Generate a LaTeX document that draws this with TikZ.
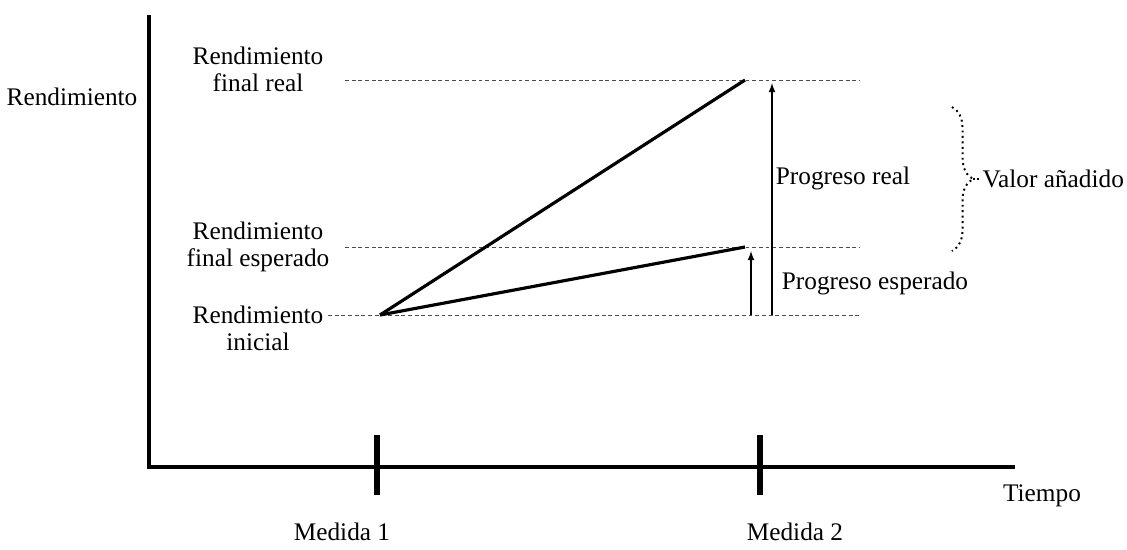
\documentclass[tikz,border=0pt]{standalone}
\usepackage{fontspec}
\setmainfont{Liberation Serif}
\usetikzlibrary{decorations.pathreplacing}

\begin{document}
\begin{tikzpicture}[x=0.02cm, y=-0.02cm, font=\fontsize{14.4}{15.5}\selectfont,
	guide/.style={gray!60!black, line width=0.5pt, dash pattern=on 2.2pt off 1.6pt},
	trend/.style={line width=1.8pt},
	lbl/.style={align=center, inner sep=1pt}]
	\useasboundingbox (0,0) rectangle (1127,549);
	% axes and ticks
	\draw[line width=2.3pt] (149,15) coordinate (top) -- (149,467) coordinate (O) -- (1015,467) coordinate (end);
	\draw[line width=3.4pt] (377,435) coordinate (t1) -- (377,495);
	\draw[line width=3.4pt] (760,435) coordinate (t2) -- (760,495);
	\node (ylab) at (72,97) {Rendimiento};
	\node (xlab) at (1042,496) {Tiempo};
	\node (m1) at (342,532) {Medida 1};
	\node (m2) at (795,532) {Medida 2};
	\node[lbl] (freal) at (258,69) {Rendimiento\\final real};
	\node[lbl] (fesp) at (258,247) {Rendimiento\\final esperado};
	\node[lbl] (ini) at (258,328) {Rendimiento\\inicial};
	% levels
	\draw[guide] (345,80) -- (860,80);
	\draw[guide] (345,247) -- (860,247);
	\draw[guide] (328,315) -- (860,315);
	\draw[trend] (380,315) coordinate (A) -- (745,80) coordinate (B);
	\draw[trend] (A) -- (745,247) coordinate (C);
	% \draw[-latex] (A)--(B);
	\draw[-latex, line width=0.8pt] (772,315) coordinate (D) -- (772,83);
	\draw[-latex, line width=0.8pt] (751,315) coordinate (E) -- (751,251);
	\node (preal) at (843,178) {Progreso real};
	\node (pesp) at (875,283) {Progreso esperado};
	\draw[dotted, line width=1.1pt, decorate, decoration={brace, amplitude=12pt}] (952,107) coordinate (F) -- (952,251) coordinate (G);
	\draw[densely dotted, line width=1.1pt] (973,179) -- (980,179) node[anchor=west, inner sep=1pt] (va) {Valor añadido};
\end{tikzpicture}
\end{document}
